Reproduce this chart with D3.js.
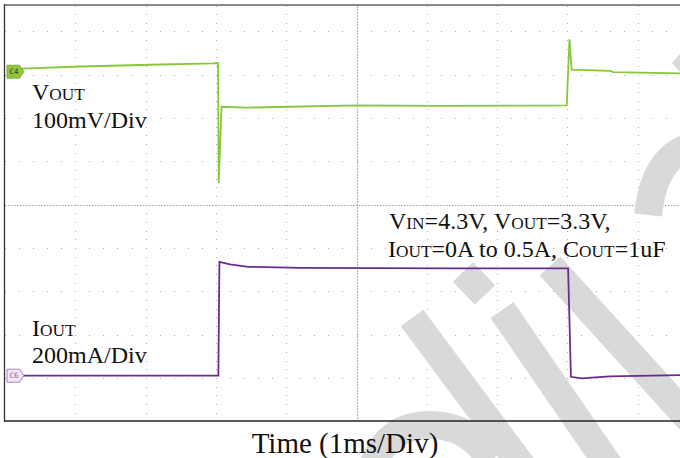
<!DOCTYPE html>
<html>
<head>
<meta charset="utf-8">
<script src="https://cdn.jsdelivr.net/npm/d3@7"></script>
<style>
  body { margin: 0; background: #fff; }
  text { font-family: "Liberation Serif", "Times New Roman", serif; white-space: pre; }
</style>
</head>
<body>
<div class="scope"></div>
<script>
const width = 680, height = 458;

// VOUT trace (ac coupled): time in ms, deviation in mV
const vTime = [0.06, 1.07, 2.06, 2.96, 3.03, 3.04, 3.08, 3.44, 4.05, 5.0, 6.19, 7.99, 8.03, 8.06, 8.61, 8.65, 9.62];
const vMv   = [6, 12, 16, 19, 20, -257, -81, -83, -81, -78, -79, -78, 75, 5, 2, -1, -4];

// IOUT trace: time in ms, current in mA
const iTime = [0.06, 3.035, 3.05, 3.2, 3.46, 4.2, 6.33, 8.01, 8.05, 8.2, 8.6, 9.62];
const iMa   = [0, 0, 526, 514, 503, 498, 496, 496, -5, -12, -3, 3];

const gridDivs = [-4, -3, -2, -1, 1, 2, 3, 4];
const timeDivs = [1, 2, 3, 4, 6, 7, 8, 9];

const vLabel = [["V", 0], ["OUT", 1]];
const vScale = "100mV/Div";
const iLabel = [["I", 0], ["OUT", 1]];
const iScale = "200mA/Div";
const condLines = [
  [["V", 0], ["IN", 1], ["=4.3V, ", 0], ["V", 0], ["OUT", 1], ["=3.3V,", 0]],
  [["I", 0], ["OUT", 1], ["=0A to 0.5A, ", 0], ["C", 0], ["OUT", 1], ["=1uF", 0]]
];
const xTitle = "Time (1ms/Div)";

const svg = d3.select('.scope').append('svg')
  .attr('width', width).attr('height', height);

// 1 ms per division, 10 divisions across
const x = d3.scaleLinear().domain([0, 10]).range([5, 708]);
// screen divisions, centre line at 0
const gy = d3.scaleLinear().domain([-5, 5]).range([421.2, -11.8]);
const yV = d3.scaleLinear().domain([0, 100]).range([71.7, 28.4]);
const yI = d3.scaleLinear().domain([0, 200]).range([375.7, 332.4]);
const px = v => Math.round(v) + 0.5;

svg.append('clipPath').attr('id', 'screen')
  .append('rect').attr('x', 5).attr('y', 5).attr('width', width - 5).attr('height', 416);

const grid = svg.append('g').attr('clip-path', 'url(#screen)');

// dotted grid: one dot per fifth of a division
const xMinor = d3.range(0, 50.5).map(k => k / 5);
const yMinor = d3.range(-25, 25.5).map(k => k / 5);
const dots = [];
gridDivs.forEach(g => xMinor.forEach(t => dots.push([x(t), gy(g)])));
timeDivs.forEach(t => yMinor.forEach(g => dots.push([x(t), gy(g)])));
grid.selectAll('rect.dot').data(dots).enter().append('rect')
  .attr('class', 'dot')
  .attr('x', d => Math.round(d[0])).attr('y', d => Math.round(d[1]))
  .attr('width', 1).attr('height', 1)
  .attr('fill', '#a9a9a9');
// centre cross
grid.append('line')
  .attr('x1', x(0)).attr('x2', x(10)).attr('y1', px(gy(0))).attr('y2', px(gy(0)))
  .attr('stroke', '#a0a0a0').attr('stroke-width', 1.2).attr('stroke-dasharray', '1.5 1.5');
grid.append('line')
  .attr('x1', px(x(5))).attr('x2', px(x(5))).attr('y1', gy(5)).attr('y2', gy(-5))
  .attr('stroke', '#a0a0a0').attr('stroke-width', 1.2).attr('stroke-dasharray', '1.5 1.5');

// watermark (sits under the traces)
const wm = svg.append('g').attr('fill', 'none').attr('stroke', '#d9d9d9').attr('stroke-width', 28);
wm.append('line').attr('x1', 463).attr('y1', 272).attr('x2', 485).attr('y2', 295);
wm.append('line').attr('x1', 412).attr('y1', 318).attr('x2', 525).attr('y2', 470);
wm.append('line').attr('x1', 502).attr('y1', 310).attr('x2', 612).attr('y2', 470);
wm.append('line').attr('x1', 550).attr('y1', 266).attr('x2', 690).attr('y2', 420);
wm.append('path').attr('d', 'M648,215 Q655,150 700,145');
wm.append('path').attr('d', 'M372,470 Q385,425 430,425 Q470,425 490,460');
wm.append('path').attr('d', 'M680,54 L672,63 L680,72 Z').attr('fill', '#d9d9d9').attr('stroke', 'none');

// traces
const tr = svg.append('g').attr('clip-path', 'url(#screen)');
const vLine = d3.line().x((d, i) => x(vTime[i])).y(d => yV(d));
const iLine = d3.line().x((d, i) => x(iTime[i])).y(d => yI(d));
tr.append('path').datum(vMv).attr('d', vLine)
  .attr('fill', 'none').attr('stroke', '#86c83a').attr('stroke-width', 1.8);
tr.append('path').datum(iMa).attr('d', iLine)
  .attr('fill', 'none').attr('stroke', '#6b2c8c').attr('stroke-width', 1.8);

// channel markers
const marker = (yy, label, fill, stroke, ink) => {
  const g = svg.append('g').attr('transform', 'translate(7,' + yy + ')');
  g.append('path').attr('d', 'M0,-6.5 L12.5,-6.5 L17,0 L12.5,6.5 L0,6.5 Z')
    .attr('fill', fill).attr('stroke', stroke).attr('stroke-width', 0.8);
  g.append('text').attr('x', 7).attr('y', 2.7).attr('text-anchor', 'middle')
    .attr('font-size', 7.5).style('font-family', 'DejaVu Sans Mono, monospace')
    .attr('fill', ink).text(label);
};
marker(yV(0), 'C4', '#8dc63f', '#6fa52c', '#2d3b1c');
marker(yI(0), 'C6', '#f1e6f5', '#9666b0', '#8a5aa5');

// labels with small caps
const capsText = (xx, yy, parts) => {
  const t = svg.append('text').attr('x', xx).attr('y', yy).attr('fill', '#111');
  parts.forEach(p => t.append('tspan').attr('font-size', p[1] ? 17.3 : 24).text(p[0]));
  return t;
};
capsText(32, 100, vLabel);
svg.append('text').attr('x', 32).attr('y', 128).attr('font-size', 24).attr('fill', '#111').text(vScale);
capsText(32, 336, iLabel);
svg.append('text').attr('x', 32).attr('y', 363).attr('font-size', 24).attr('fill', '#111').text(iScale);
capsText(389, 229, condLines[0]);
capsText(388, 257, condLines[1]);

svg.append('text').attr('x', 345).attr('y', 453).attr('text-anchor', 'middle')
  .attr('font-size', 29).attr('fill', '#111').text(xTitle);

// frame
svg.append('line').attr('x1', 4).attr('x2', width).attr('y1', 5).attr('y2', 5)
  .attr('stroke', '#8a8a8a').attr('stroke-width', 2);
svg.append('line').attr('x1', 4.5).attr('x2', 4.5).attr('y1', 4).attr('y2', 421.5)
  .attr('stroke', '#333').attr('stroke-width', 1.3);
svg.append('line').attr('x1', 4).attr('x2', width).attr('y1', 421).attr('y2', 421)
  .attr('stroke', '#222').attr('stroke-width', 1.3);
</script>
</body>
</html>
